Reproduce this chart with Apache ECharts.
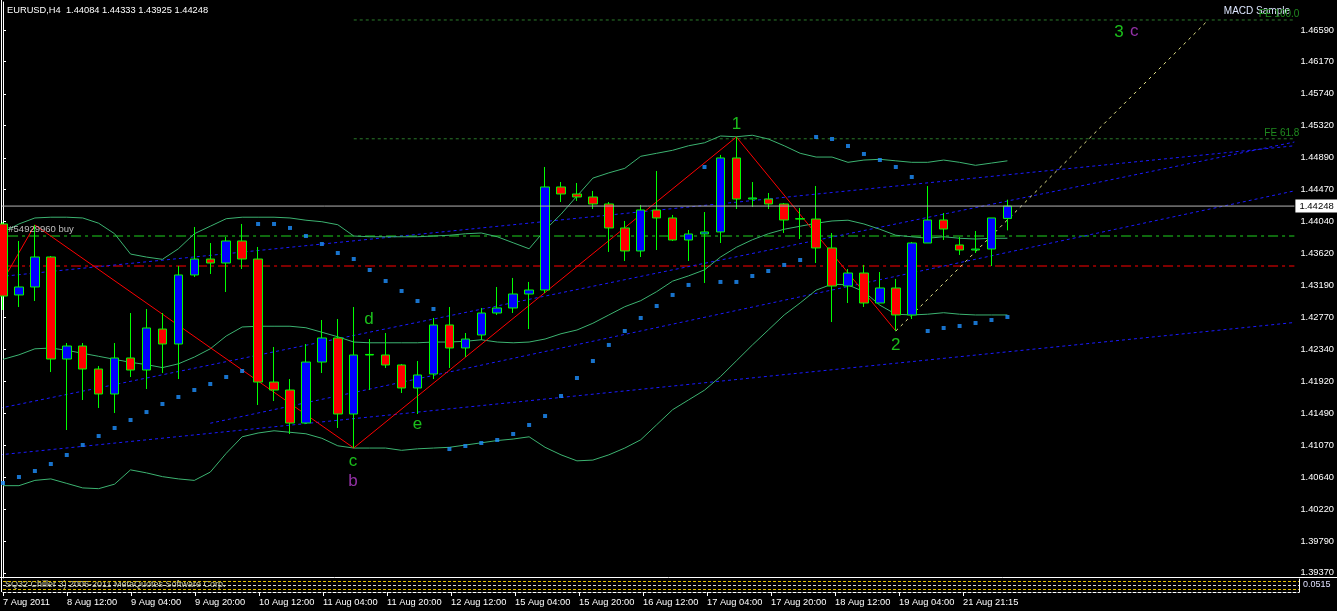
<!DOCTYPE html>
<html><head><meta charset="utf-8">
<script src="https://cdn.jsdelivr.net/npm/echarts@6/dist/echarts.min.js"></script>
<style>html,body{margin:0;padding:0;background:#000;}#c{width:1337px;height:611px;}</style>
</head><body><div id="c"></div>
<script>
// ---------- DATA ----------
const categories = ['7 Aug 2011','8 Aug 00:00','8 Aug 04:00','8 Aug 08:00','8 Aug 12:00','8 Aug 16:00','8 Aug 20:00','9 Aug 00:00','9 Aug 04:00','9 Aug 08:00','9 Aug 12:00','9 Aug 16:00','9 Aug 20:00','10 Aug 00:00','10 Aug 04:00','10 Aug 08:00','10 Aug 12:00','10 Aug 16:00','10 Aug 20:00','11 Aug 00:00','11 Aug 04:00','11 Aug 08:00','11 Aug 12:00','11 Aug 16:00','11 Aug 20:00','12 Aug 00:00','12 Aug 04:00','12 Aug 08:00','12 Aug 12:00','12 Aug 16:00','12 Aug 20:00','15 Aug 00:00','15 Aug 04:00','15 Aug 08:00','15 Aug 12:00','15 Aug 16:00','15 Aug 20:00','16 Aug 00:00','16 Aug 04:00','16 Aug 08:00','16 Aug 12:00','16 Aug 16:00','16 Aug 20:00','17 Aug 00:00','17 Aug 04:00','17 Aug 08:00','17 Aug 12:00','17 Aug 16:00','17 Aug 20:00','18 Aug 00:00','18 Aug 04:00','18 Aug 08:00','18 Aug 12:00','18 Aug 16:00','18 Aug 20:00','19 Aug 00:00','19 Aug 04:00','19 Aug 08:00','19 Aug 12:00','19 Aug 16:00','21 Aug 21:15','22 Aug 00:00','22 Aug 04:00','22 Aug 08:00'];
const emptySlots = 18; // chart shift area on the right
// [open, close, low, high]
const ohlc = [
[1.44010,1.43052,1.42866,1.44036],[1.43066,1.43172,1.42906,1.43784],[1.43172,1.43571,1.42986,1.43997],[1.43571,1.42214,1.42041,1.43584],
[1.42214,1.42387,1.41270,1.42427],[1.42387,1.42081,1.41669,1.42427],[1.42081,1.41749,1.41563,1.42121],[1.41749,1.42228,1.41496,1.42427],
[1.42228,1.42068,1.41975,1.42826],[1.42068,1.42627,1.41815,1.42879],[1.42613,1.42414,1.42028,1.42826],[1.42414,1.43332,1.41948,1.43451],
[1.43332,1.43544,1.43305,1.43970],[1.43544,1.43491,1.43345,1.43757],[1.43491,1.43784,1.43105,1.43837],[1.43784,1.43544,1.43411,1.44010],
[1.43544,1.41908,1.41603,1.43704],[1.41908,1.41802,1.41656,1.42374],[1.41802,1.41363,1.41217,1.41948],[1.41363,1.42174,1.41350,1.42414],
[1.42174,1.42494,1.42028,1.42733],[1.42494,1.41483,1.41297,1.42746],[1.41483,1.42268,1.41031,1.42906],[1.42268,1.42275,1.41802,1.42480],
[1.42268,1.42135,1.42095,1.42560],[1.42135,1.41829,1.41762,1.42148],[1.41829,1.42002,1.41483,1.42188],[1.42015,1.42667,1.41948,1.42760],
[1.42667,1.42361,1.42095,1.42906],[1.42361,1.42480,1.42241,1.42560],[1.42534,1.42826,1.42467,1.42893],[1.42826,1.42893,1.42800,1.43172],
[1.42893,1.43079,1.42826,1.43292],[1.43079,1.43132,1.42613,1.43239],[1.43132,1.44502,1.43092,1.44768],[1.44502,1.44409,1.44302,1.44568],
[1.44409,1.44369,1.44316,1.44555],[1.44369,1.44276,1.44209,1.44449],[1.44276,1.43957,1.43638,1.44302],[1.43957,1.43651,1.43518,1.44050],
[1.43651,1.44196,1.43571,1.44263],[1.44196,1.44090,1.43664,1.44715],[1.44090,1.43797,1.43784,1.44130],[1.43797,1.43877,1.43518,1.43930],
[1.43877,1.43904,1.43225,1.44169],[1.43904,1.44888,1.43757,1.44928],[1.44888,1.44342,1.44209,1.45167],[1.44342,1.44356,1.44236,1.44568],
[1.44342,1.44276,1.44209,1.44422],[1.44276,1.44063,1.43890,1.44289],[1.44076,1.44080,1.43810,1.44223],[1.44076,1.43691,1.43491,1.44515],
[1.43691,1.43185,1.42706,1.43890],[1.43185,1.43358,1.42959,1.43411],[1.43358,1.42959,1.42906,1.43465],[1.42959,1.43159,1.42959,1.43371],
[1.43159,1.42800,1.42587,1.43279],[1.42800,1.43757,1.42746,1.43770],[1.43757,1.44063,1.43757,1.44515],[1.44063,1.43943,1.43797,1.44156],
[1.43731,1.43664,1.43598,1.43837],[1.43664,1.43677,1.43624,1.43917],[1.43677,1.44090,1.43451,1.44090],[1.44084,1.44248,1.43925,1.44333]];
const bbUpper = [1.4390,1.4401,1.4409,1.4410,1.4410,1.4409,1.4402,1.4388,1.4361,1.4357,1.4354,1.4368,1.4388,1.4398,1.4408,1.4410,
1.4410,1.4410,1.4409,1.4406,1.4404,1.4400,1.4385,1.4384,1.4384,1.4384,1.4384,1.4385,1.4386,1.4388,1.4389,1.4384,
1.4376,1.4368,1.4393,1.4414,1.4438,1.4462,1.4469,1.4475,1.4491,1.4495,1.4499,1.4505,1.4509,1.4518,1.4517,1.4519,
1.4514,1.4505,1.4495,1.4490,1.4490,1.4483,1.4486,1.4487,1.4485,1.4483,1.4483,1.4486,1.4483,1.4479,1.4482,1.4485];
const bbMiddle = [1.4221,1.4227,1.4235,1.4236,1.4233,1.4229,1.4225,1.4221,1.4217,1.4214,1.4210,1.4215,1.4224,1.4235,1.4252,1.4264,
1.4265,1.4265,1.4265,1.4263,1.4257,1.4251,1.4244,1.4243,1.4243,1.4243,1.4243,1.4244,1.4244,1.4245,1.4247,1.4244,
1.4243,1.4244,1.4248,1.4255,1.4260,1.4269,1.4280,1.4291,1.4299,1.4311,1.4325,1.4332,1.4340,1.4357,1.4370,1.4380,
1.4388,1.4394,1.4398,1.4402,1.4405,1.4406,1.4401,1.4394,1.4386,1.4384,1.4382,1.4384,1.4382,1.4381,1.4382,1.4382];
const bbLower = [1.4053,1.4053,1.4060,1.4062,1.4056,1.4050,1.4049,1.4055,1.4074,1.4070,1.4065,1.4062,1.4060,1.4071,1.4096,1.4118,
1.4123,1.4126,1.4124,1.4122,1.4116,1.4106,1.4103,1.4103,1.4103,1.4100,1.4102,1.4103,1.4104,1.4107,1.4110,1.4113,
1.4115,1.4118,1.4104,1.4094,1.4086,1.4087,1.4094,1.4103,1.4114,1.4134,1.4154,1.4167,1.4180,1.4198,1.4219,1.4240,
1.4260,1.4280,1.4296,1.4313,1.4321,1.4320,1.4311,1.4293,1.4281,1.4280,1.4281,1.4283,1.4281,1.4280,1.4280,1.4280];
const sar = [1.40565,1.40645,1.40725,1.40818,1.40938,1.41071,1.41190,1.41297,1.41403,1.41509,1.41616,1.41709,1.41802,1.41882,1.41975,1.42055,
1.44010,1.44010,1.43957,1.43850,1.43744,1.43624,1.43544,1.43398,1.43252,1.43119,1.42986,1.42879,1.41017,1.41057,1.41097,1.41137,
1.41217,1.41337,1.41456,1.41722,1.41962,1.42188,1.42401,1.42587,1.42760,1.42919,1.43066,1.43199,1.44768,1.43239,1.43239,1.43318,
1.43385,1.43465,1.43531,1.45167,1.45140,1.45047,1.44941,1.44861,1.44768,1.44635,1.42587,1.42627,1.42653,1.42693,1.42733,1.42773];
// zigzag vertices [bar index, price]
const zigzag = [[0,1.4326],[2,1.43997],[22,1.41031],[46,1.45167],[56,1.42587]];
// trend lines [[x1,p1],[x2,p2]] in bar units
const trendLines = [
  [[-0.2,1.4094],[81,1.4270]],
  [[-0.2,1.4331],[81,1.4505]],
  [[-0.2,1.4156],[81,1.4510]],
  [[13,1.4136],[81,1.4445]]
];
const feLine = [[56,1.42587],[75.6,1.46723]];
const feLevels = [{name:'FE 100.0', value:1.46723},{name:'FE 61.8', value:1.45143}];
const feStart = 22;
const bidPrice = 1.44248;
const orderPrice = 1.43850;
const stopPrice = 1.43451;
const priceTicks = [1.39370,1.39790,1.40220,1.40640,1.41070,1.41490,1.41920,1.42340,1.42770,1.43190,1.43620,1.44040,1.44470,1.44890,1.45320,1.45740,1.46170,1.46590];
const waveLabels = [
  {text:'1', x:46, y:1.45340, color:'#22ee22'},
  {text:'2', x:56, y:1.42390, color:'#22ee22'},
  {text:'3', x:70, y:1.46560, color:'#22ee22'},
  {text:'c', x:70.95, y:1.46570, color:'#b83cd0'},
  {text:'c', x:21.95, y:1.40860, color:'#22ee22'},
  {text:'b', x:21.95, y:1.40590, color:'#b83cd0'},
  {text:'d', x:22.95, y:1.42740, color:'#22ee22'},
  {text:'e', x:26, y:1.41340, color:'#22ee22'}
];
// sub-window indicator levels (0..1 scale)
const subLevels = [0.8, 0.5, 0.2];
const subColors = ['#e0c000','#d8d8d8','#e0c000'];
const header = 'EURUSD,H4  1.44084 1.44333 1.43925 1.44248';
const orderLabel = '#54929960 buy';
const eaName = 'MACD Sample';
// ---------- CHART ----------
const FONT = "'Liberation Sans',Arial,sans-serif";
const cats = categories.concat(new Array(emptySlots).fill(''));
const N = cats.length; // 82
const chart = echarts.init(document.getElementById('c'), null, {renderer:'canvas'});
const showTime = (i)=> i%4===0 && i<=60;
const series = [];
const hLine = (price, color, type) => ({
  type:'line', xAxisIndex:1, yAxisIndex:0, symbol:'none', silent:true, clip:true,
  data:[[-1,price],[N-1,price]], lineStyle:{color, width:1, type}, z:2
});
series.push(hLine(stopPrice,'#ff0000',[10,4,3,4]));
series.push(hLine(orderPrice,'#1ed21e',[10,4,3,4]));
series.push({
  type:'line', xAxisIndex:1, symbol:'none', silent:true, clip:false, data:[[-1,bidPrice],[N-1,bidPrice]],
  lineStyle:{color:'#b4b4b4', width:1}, z:9,
  endLabel:{show:true, formatter:()=>bidPrice.toFixed(5), color:'#000', backgroundColor:'#fff',
      fontFamily:FONT, fontSize:9.5, padding:[2,4,1,4], distance:1}
});
feLevels.forEach(l=>{
  series.push({type:'line', xAxisIndex:1, symbol:'none', silent:true, data:[[feStart,l.value],[N-1,l.value]],
    lineStyle:{color:'#2a7a2a', width:1, type:[3,3]}, z:2,
    endLabel:{show:true, formatter:l.name, color:'#1f8a1f', fontFamily:FONT, fontSize:10, align:'right', offset:[-3,-6]}});
});
trendLines.forEach(t=>series.push({type:'line', xAxisIndex:1, symbol:'none', silent:true, data:t,
  lineStyle:{color:'#1a1aff', width:1, type:[3,3]}, z:3}));
series.push({type:'line', xAxisIndex:1, symbol:'none', silent:true, data:feLine,
  lineStyle:{color:'#e6e68a', width:1, type:[3,4]}, z:3});
[bbUpper,bbMiddle,bbLower].forEach(d=>series.push({type:'line', xAxisIndex:0, symbol:'none', silent:true, data:d,
  lineStyle:{color:'#3cb371', width:1}, z:4}));
series.push({type:'line', xAxisIndex:1, symbol:'none', silent:true, data:zigzag,
  lineStyle:{color:'#ff0000', width:1}, z:5});
series.push({type:'candlestick', xAxisIndex:0, data:ohlc, barWidth:9, clip:true, z:6,
  itemStyle:{color:'#0000ff', color0:'#ff0000', borderColor:'#00ff00', borderColor0:'#00ff00', borderWidth:1}});
series.push({type:'scatter', xAxisIndex:0, data:sar, symbol:'rect', symbolSize:[4,4], itemStyle:{color:'#1e90ff'}, z:7, silent:true});
series.push({type:'scatter', xAxisIndex:1, symbol:'circle', symbolSize:1, itemStyle:{color:'rgba(0,0,0,0)'}, silent:true, z:8,
  data:waveLabels.map(w=>({value:[w.x,w.y], label:{show:true, position:'inside', formatter:w.text, color:w.color,
    fontFamily:FONT, fontSize:17}}))});
series.push({type:'scatter', xAxisIndex:1, symbol:'circle', symbolSize:1, itemStyle:{color:'rgba(0,0,0,0)'}, silent:true, z:8,
  data:[{value:[0.3,1.43935], label:{show:true, position:'right', distance:0, formatter:orderLabel, color:'#e8e8e8', fontFamily:FONT, fontSize:9.5}}]});
// sub window
series.push({type:'line', xAxisIndex:2, yAxisIndex:1, symbol:'none', silent:true, data:[],
  markLine:{symbol:'none', silent:true, label:{show:false},
    data:subLevels.map((v,i)=>({yAxis:v, lineStyle:{color:subColors[i], type:[3,2], width:1}}))}});

chart.setOption({
  backgroundColor:'#000',
  animation:false,
  grid:[{left:3, right:38, top:2, bottom:33, containLabel:false},
        {left:3, right:38, top:579, height:13, containLabel:false}],
  xAxis:[
    {type:'category', data:cats, boundaryGap:false, gridIndex:0, show:false},
    {type:'value', min:0, max:N-1, show:false, gridIndex:0},
    {type:'category', data:cats, boundaryGap:false, gridIndex:1, position:'bottom', offset:1,
      axisLine:{show:true, lineStyle:{color:'#ffffff', type:[3,2]}},
      axisTick:{show:true, inside:false, length:4, interval:showTime, lineStyle:{color:'#fff'}},
      axisLabel:{show:true, interval:showTime, hideOverlap:false, align:'left', margin:5, color:'#fff', fontFamily:FONT, fontSize:9.3,
        formatter:(v)=>v},
      splitLine:{show:false}}
  ],
  yAxis:[{type:'value', position:'right', min:1.39302, max:1.46962, scale:true, gridIndex:0,
    axisLine:{show:true, lineStyle:{color:'#fff'}},
    axisTick:{show:true, length:3, customValues:priceTicks, lineStyle:{color:'#fff'}},
    axisLabel:{show:true, customValues:priceTicks, margin:6, color:'#fff', fontFamily:FONT, fontSize:9.3, formatter:(v)=>v.toFixed(5)},
    splitLine:{show:false}},
    {type:'value', min:0, max:1, gridIndex:1, position:'right', axisLine:{show:true, lineStyle:{color:'#fff'}},
      axisTick:{show:false}, axisLabel:{show:false}, splitLine:{show:false}}],
  series,
  graphic:[
    {type:'text', left:7, top:6, style:{text:header, fill:'#fff', font:"9.3px "+FONT}},
    {type:'text', right:47, top:6, style:{text:eaName, fill:'#dde6ff', font:"10px "+FONT}},
    {type:'line', shape:{x1:1.5,y1:0,x2:1.5,y2:592}, style:{stroke:'#fff', lineWidth:1}},
    {type:'line', shape:{x1:0,y1:577.5,x2:1337,y2:577.5}, style:{stroke:'#fff', lineWidth:1}},
    {type:'text', left:5, top:580, style:{text:'SQ32 Chiller 3) 2006-2011 MetaQuotes Software Corp.', fill:'#e8e8c0', font:"9px "+FONT, opacity:0.85}},
    {type:'text', left:1303, top:580, style:{text:'0.0515', fill:'#e0e0ff', font:"9px "+FONT}}
  ]
});
</script></body></html>
